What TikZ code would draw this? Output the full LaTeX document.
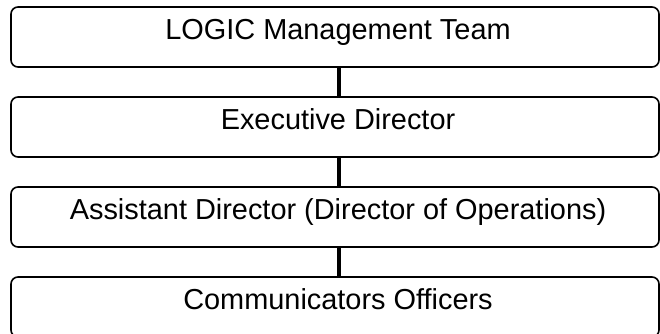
\documentclass[tikz,border=0pt]{standalone}
\usepackage{fontspec}
\setmainfont{Liberation Sans}
\begin{document}
\begin{tikzpicture}[x=1pt,y=-1pt,
  orgbox/.style={draw=black, line width=1.6pt, rounded corners=7pt,
    minimum width=648pt, minimum height=60pt, inner sep=0pt,
    text height=21pt, text depth=17pt,
    font=\fontsize{28.9}{34}\selectfont,
    execute at begin node=\hspace*{6pt}},
  link/.style={draw=black, line width=4.6pt}]
  \useasboundingbox (0,0) rectangle (660,333);
  \node[orgbox] (team) at (335,37) {LOGIC Management Team};
  \node[orgbox] (exec) at (335,127) {Executive Director};
  \node[orgbox] (asst) at (335,217) {Assistant Director (Director of Operations)};
  \node[orgbox] (comm) at (335,307) {Communicators Officers};
  \draw[link] ([xshift=4pt]team.south) -- ([xshift=4pt]exec.north);
  \draw[link] ([xshift=4pt]exec.south) -- ([xshift=4pt]asst.north);
  \draw[link] ([xshift=4pt]asst.south) -- ([xshift=4pt]comm.north);
\end{tikzpicture}
\end{document}
